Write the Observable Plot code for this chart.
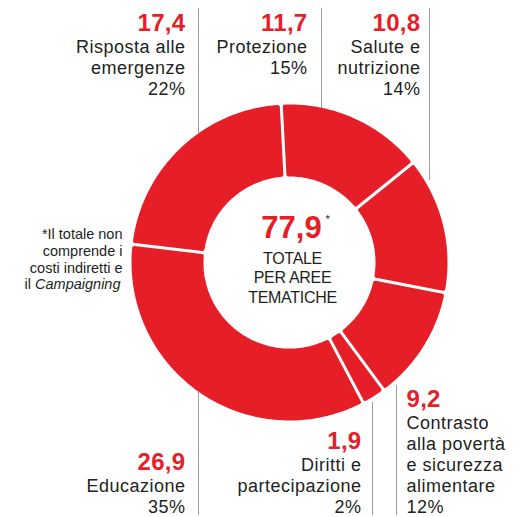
<!DOCTYPE html>
<html><head><meta charset="utf-8">
<script src="https://cdn.jsdelivr.net/npm/d3@7"></script>
<script src="https://cdn.jsdelivr.net/npm/@observablehq/plot@0.6"></script>
<style>html,body{margin:0;padding:0;background:#fff} svg{display:block}</style>
</head><body><div id="chart"></div>
<script>
// ---- data ----
const categories = ["Protezione", "Salute e nutrizione", "Contrasto alla povertà e sicurezza alimentare", "Diritti e partecipazione", "Educazione", "Risposta alle emergenze"];
const values = [11.7, 10.8, 9.2, 1.9, 26.9, 17.4];
const valueLabels = ["11,7", "10,8", "9,2", "1,9", "26,9", "17,4"];
const percentLabels = ["15%", "14%", "12%", "2%", "35%", "22%"];
const labelLines = ["Protezione", "Salute e\nnutrizione", "Contrasto\nalla povertà\ne sicurezza\nalimentare", "Diritti e\npartecipazione", "Educazione", "Risposta alle\nemergenze"];
const totalLabel = "77,9";
const totalCaption = "TOTALE\nPER AREE\nTEMATICHE";
const noteLines = "*Il totale non\ncomprende i\ncosti indiretti e";
const noteLastPlain = "il";
const noteLastItalic = "Campaigning";

// ---- layout ----
const W = 520, H = 517;
const cx = 289, cy = 262, R = 158, r = 86, gap = 3, round = 2, startDeg = -3;
const RED = "#e61e28", DARK = "#231f20", GRAY = "#9d9d9d", FONT = "Liberation Sans";
const labelPos = [
  {x: 307, y: 30, anchor: "end"},
  {x: 420, y: 30, anchor: "end"},
  {x: 406, y: 406, anchor: "start"},
  {x: 361, y: 448, anchor: "end"},
  {x: 185, y: 469, anchor: "end"},
  {x: 185, y: 30, anchor: "end"}
];
const dividers = [
  {x: 198, y1: 8, y2: 133}, {x: 321, y1: 8, y2: 108}, {x: 429, y1: 8, y2: 180},
  {x: 198, y1: 392, y2: 515}, {x: 372, y1: 402, y2: 515}, {x: 396, y1: 385, y2: 515}
];
const numGap = 22, lineStep = 21, labelSize = 18, numSize = 24;

// ---- slices (polygon points computed from values) ----
const total = d3.sum(values);
const pts = [];
let acc = 0;
values.forEach((v, i) => {
  const a0 = startDeg * Math.PI / 180 + acc / total * 2 * Math.PI;
  acc += v;
  const a1 = startDeg * Math.PI / 180 + acc / total * 2 * Math.PI;
  const Ro = R - round, Ri = r + round, h = gap / 2 + round;
  const dO = Math.asin(h / Ro), dI = Math.asin(h / Ri);
  const n = 80;
  const ring = [];
  for (let k = 0; k <= n; k++) {
    const a = a0 + dO + (a1 - a0 - 2 * dO) * k / n;
    ring.push({cat: categories[i], x: cx + Ro * Math.sin(a), y: cy - Ro * Math.cos(a)});
  }
  for (let k = 0; k <= n; k++) {
    const a = a1 - dI - (a1 - a0 - 2 * dI) * k / n;
    ring.push({cat: categories[i], x: cx + Ri * Math.sin(a), y: cy - Ri * Math.cos(a)});
  }
  ring.push({...ring[0]});
  pts.push(...ring);
});

const rows = categories.map((c, i) => ({
  cat: c,
  value: valueLabels[i],
  label: labelLines[i] + "\n" + percentLabels[i],
  nLines: labelLines[i].split("\n").length + 1,
  ...labelPos[i]
}));

// measure italic word for the footnote
const noteSize = 14.5;
const ctx = document.createElement("canvas").getContext("2d");
ctx.font = `italic ${noteSize}px '${FONT}'`;
const wItal = ctx.measureText(noteLastItalic).width;
ctx.font = `${noteSize}px '${FONT}'`;
const wSpace = ctx.measureText(" ").width;
const noteRight = 122;

const textMarks = [];
for (const a of ["start", "end"]) {
  const sub = rows.filter(d => d.anchor === a);
  textMarks.push(Plot.text(sub, {x: "x", y: "y", text: "value", textAnchor: a, lineAnchor: "bottom",
    fontSize: numSize, fontWeight: "bold", fill: RED, fontFamily: FONT}));
  textMarks.push(Plot.text(sub, {x: "x", y: d => d.y + numGap + lineStep * (d.nLines - 1), text: "label", textAnchor: a,
    lineAnchor: "bottom", fontSize: labelSize, lineHeight: lineStep / labelSize, fill: DARK, fontFamily: FONT}));
}

const chart = Plot.plot({
  width: W, height: H,
  margin: 0,
  x: {domain: [0, W], range: [0, W], axis: null},
  y: {domain: [0, H], range: [0, H], axis: null},
  style: {fontFamily: FONT, background: "#fff"},
  marks: [
    Plot.ruleX(dividers, {x: "x", y1: "y1", y2: "y2", stroke: GRAY, strokeWidth: 1}),
    Plot.line(pts, {x: "x", y: "y", z: "cat", fill: RED, stroke: RED, strokeWidth: 2 * round,
      strokeLinejoin: "round", curve: "linear"}),
    ...textMarks,
    Plot.text([totalLabel], {x: () => cx + 2, y: () => 237, text: d => d, textAnchor: "middle", lineAnchor: "bottom",
      fontSize: 31, fontWeight: "bold", fill: RED, fontFamily: FONT}),
    Plot.text(["*"], {x: () => 325, y: () => 222, text: d => d, textAnchor: "start", lineAnchor: "bottom",
      fontSize: 11, fill: DARK, fontFamily: FONT}),
    Plot.text([totalCaption], {x: () => cx + 3, y: () => 302, text: d => d, textAnchor: "middle", lineAnchor: "bottom",
      fontSize: 16, lineHeight: 19.5 / 16, fill: DARK, fontFamily: FONT}),
    Plot.text([noteLines], {x: () => noteRight, y: () => 272, text: d => d, textAnchor: "end", lineAnchor: "bottom",
      fontSize: noteSize, lineHeight: 16.7 / noteSize, fill: DARK, fontFamily: FONT}),
    Plot.text([noteLastItalic], {x: () => noteRight - 2, y: () => 288.7, text: d => d, textAnchor: "end", lineAnchor: "bottom",
      fontSize: noteSize, fontStyle: "italic", fill: DARK, fontFamily: FONT}),
    Plot.text([noteLastPlain], {x: () => noteRight - 2 - wItal - wSpace, y: () => 288.7, text: d => d, textAnchor: "end", lineAnchor: "bottom",
      fontSize: noteSize, fill: DARK, fontFamily: FONT})
  ]
});
// letter spacing tweaks (Plot's text mark has no letterSpacing option)
d3.select(chart).selectAll(`g[font-size="${labelSize}"]`).attr("letter-spacing", 0.5);
d3.select(chart).selectAll(`g[font-size="${numSize}"]`).attr("letter-spacing", 0.3);
d3.select(chart).selectAll(`g[font-size="16"]`).attr("letter-spacing", -0.3);
document.getElementById("chart").appendChild(chart);
</script>
</body></html>
